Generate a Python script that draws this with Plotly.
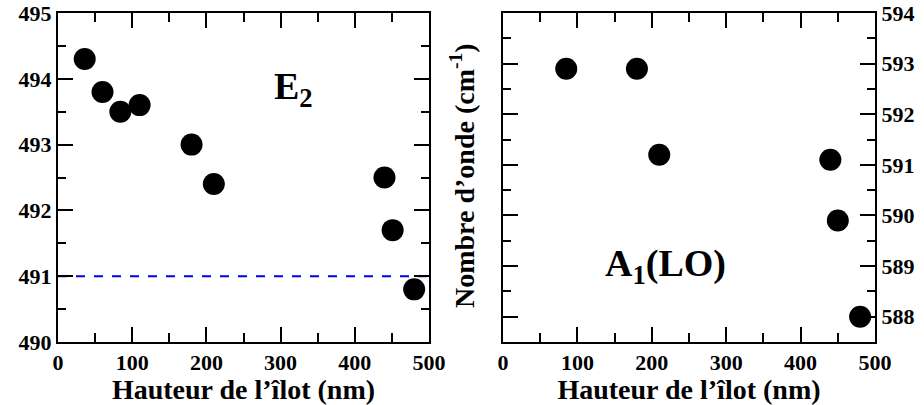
import plotly.graph_objects as go

# Data
e2_height = [36, 60, 84, 110, 180, 210, 440, 451, 480]
e2_wavenumber = [494.3, 493.8, 493.5, 493.6, 493.0, 492.4, 492.5, 491.7, 490.8]
e2_reference = 491.0

a1_height = [85, 180, 210, 440, 450, 480]
a1_wavenumber = [592.9, 592.9, 591.2, 591.1, 589.9, 588.0]

x_ticks = [0, 100, 200, 300, 400, 500]
e2_ticks = [490, 491, 492, 493, 494, 495]
a1_ticks = [588, 589, 590, 591, 592, 593, 594]

x_label = "Hauteur de l\u2019\u00eelot (nm)"
y_label = "Nombre d\u2019onde (cm<sup>-1</sup>)"

FONT = "Liberation Serif"
W, H = 924, 405

fig = go.Figure()
fig.add_trace(go.Scatter(x=e2_height, y=e2_wavenumber, mode="markers",
                         marker=dict(color="black", size=22), xaxis="x", yaxis="y",
                         showlegend=False))
fig.add_trace(go.Scatter(x=[0, 500], y=[e2_reference, e2_reference], mode="lines",
                         line=dict(color="#0000ee", width=2, dash="dash"),
                         xaxis="x", yaxis="y", showlegend=False))
fig.add_trace(go.Scatter(x=a1_height, y=a1_wavenumber, mode="markers",
                         marker=dict(color="black", size=22), xaxis="x2", yaxis="y2",
                         showlegend=False))

tickfont = dict(family=FONT, size=22, color="black")
titlefont = dict(family=FONT, size=28, color="black")

def bold(vals):
    return [f"<b>{v}</b>" for v in vals]

def xaxis(anchor, domain):
    return dict(domain=domain, anchor=anchor, range=[0, 500],
                tickvals=x_ticks, ticktext=bold(x_ticks), automargin=False,
                showgrid=False, zeroline=False, showline=True, linecolor="black",
                linewidth=2, mirror="ticks", ticks="inside", ticklen=15, tickwidth=2,
                tickcolor="black", tickfont=tickfont,
                minor=dict(dtick=50, tick0=0, ticks="inside", ticklen=9, tickwidth=2, tickcolor="black"),
                title=dict(text="<b>" + x_label + "</b>", font=titlefont, standoff=2))

def yaxis(anchor, domain, rng, ticks, side):
    return dict(domain=domain, anchor=anchor, range=rng,
                tickvals=ticks, ticktext=bold(ticks), automargin=False,
                side=side, showgrid=False, zeroline=False, showline=True,
                linecolor="black", linewidth=2, mirror="ticks", ticks="inside",
                ticklen=15, tickwidth=2, tickcolor="black", tickfont=tickfont,
                minor=dict(dtick=0.5, tick0=ticks[0], ticks="inside", ticklen=8, tickwidth=2, tickcolor="black"))

ydom = [1 - 342 / H, 1 - 13 / H]
fig.update_layout(
    width=W, height=H,
    margin=dict(l=0, r=0, t=0, b=0),
    plot_bgcolor="white", paper_bgcolor="white",
    xaxis=xaxis("y", [58 / W, 429 / W]),
    yaxis=yaxis("x", ydom, [490, 495], e2_ticks, "left"),
    xaxis2=xaxis("y2", [503 / W, 875 / W]),
    yaxis2=yaxis("x2", ydom, [587.5, 594], a1_ticks, "right"),
    annotations=[
        dict(text="<b>E<sub>2</sub></b>", x=318, y=493.85, xref="x", yref="y", showarrow=False,
             font=dict(family=FONT, size=38, color="black")),
        dict(text="<b>A<sub>1</sub>(LO)</b>", x=219, y=589.0, xref="x2", yref="y2", showarrow=False,
             font=dict(family=FONT, size=38, color="black")),
        dict(text="<b>" + y_label + "</b>", x=462 / W, y=1 - 176 / H, xref="paper", yref="paper",
             showarrow=False, textangle=-90,
             font=dict(family=FONT, size=28, color="black")),
    ],
)

fig.write_html("out.html", config={"displayModeBar": False},
               post_script="document.body.style.margin='0px';document.body.style.overflow='hidden';")
